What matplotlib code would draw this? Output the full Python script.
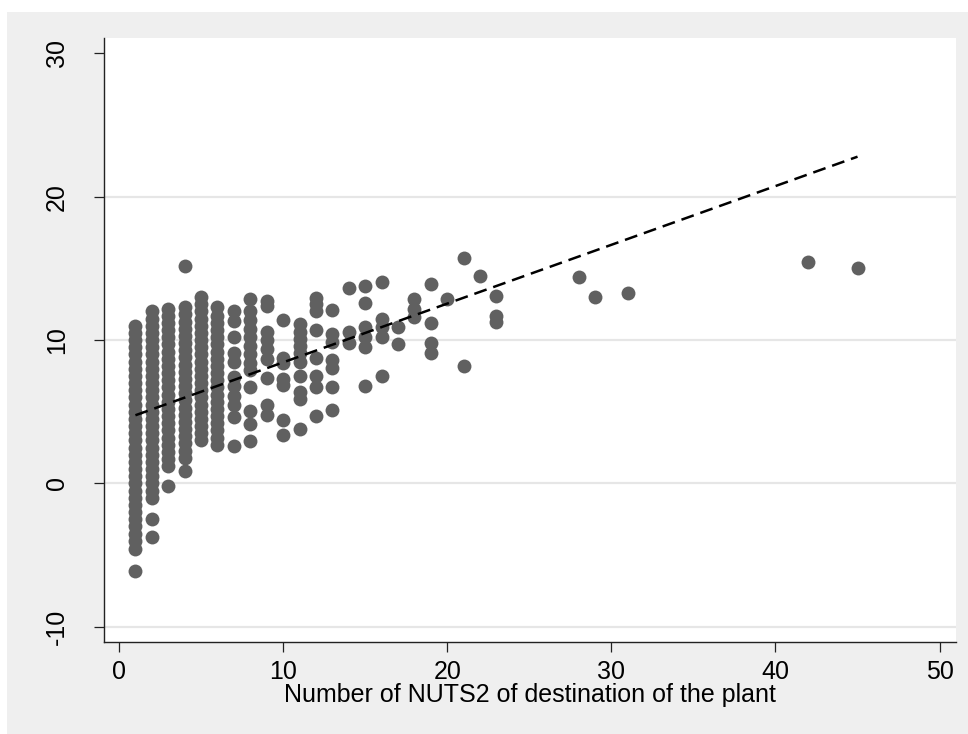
import matplotlib
matplotlib.use("Agg")
import matplotlib.pyplot as plt
from matplotlib.patches import Rectangle

plt.rcParams['font.family'] = ['Liberation Sans', 'DejaVu Sans']

# Data: number of NUTS2 regions (x) and outcome (y)
nuts_count = (
    [1] * 33 + [2] * 29 + [3] * 24 + [4] * 24 + [5] * 21 + [6] * 20 +
    [7] * 11 + [8] * 13 + [9] * 9 + [10] * 7 + [11] * 10 + [12] * 8 +
    [13] * 7 + [14] * 3 + [15] * 6 + [16] * 5 + [17] * 2 + [18] * 3 +
    [19] * 4 + [20] * 1 + [21] * 2 + [22] * 1 + [23] * 3 +
    [28, 29, 31, 42, 45]
)
outcome = [
    # x = 1
    -6.1, -4.6, -4.0, -3.5, -3.0, -2.5, -2.0, -1.5, -1.0, -0.5, 0.0, 0.5,
    1.0, 1.5, 2.0, 2.5, 3.0, 3.5, 4.0, 4.5, 5.0, 5.5, 6.0, 6.5, 7.0, 7.5,
    8.0, 8.5, 9.0, 9.5, 10.0, 10.5, 11.0,
    # x = 2
    -3.7, -2.5, -1.0, -0.5, 0.0, 0.5, 1.0, 1.5, 2.0, 2.5, 3.0, 3.5, 4.0,
    4.5, 5.0, 5.5, 6.0, 6.5, 7.0, 7.5, 8.0, 8.5, 9.0, 9.5, 10.0, 10.5,
    11.0, 11.5, 12.0,
    # x = 3
    -0.2, 1.2, 1.7, 2.2, 2.7, 3.2, 3.7, 4.2, 4.7, 5.2, 5.7, 6.2, 6.7, 7.2,
    7.7, 8.2, 8.7, 9.2, 9.7, 10.2, 10.7, 11.2, 11.7, 12.2,
    # x = 4
    0.9, 1.8, 2.3, 2.8, 3.3, 3.8, 4.3, 4.8, 5.3, 5.8, 6.3, 6.8, 7.3, 7.8,
    8.3, 8.8, 9.3, 9.8, 10.3, 10.8, 11.3, 11.8, 12.3, 15.15,
    # x = 5
    3.0, 3.5, 4.0, 4.5, 5.0, 5.5, 6.0, 6.5, 7.0, 7.5, 8.0, 8.5, 9.0, 9.5,
    10.0, 10.5, 11.0, 11.5, 12.0, 12.5, 13.0,
    # x = 6
    2.7, 3.2, 3.7, 4.2, 4.7, 5.2, 5.7, 6.2, 6.7, 7.2, 7.7, 8.2, 8.7, 9.2,
    9.7, 10.2, 10.7, 11.2, 11.7, 12.3,
    # x = 7
    12.05, 11.35, 10.2, 9.1, 8.5, 7.4, 6.8, 6.1, 5.45, 4.65, 2.6,
    # x = 8
    12.9, 12.0, 11.4, 10.8, 10.2, 9.6, 9.0, 8.4, 7.95, 6.7, 5.05, 4.15, 2.95,
    # x = 9
    12.7, 12.35, 10.6, 10.0, 9.4, 8.7, 7.35, 5.5, 4.8,
    # x = 10
    11.4, 8.75, 8.4, 7.3, 6.9, 4.45, 3.4,
    # x = 11
    11.1, 10.6, 10.1, 9.6, 9.1, 8.5, 7.5, 6.4, 5.9, 3.8,
    # x = 12
    12.95, 12.5, 12.0, 10.7, 8.75, 7.5, 6.7, 4.7,
    # x = 13
    12.1, 10.4, 9.9, 8.6, 8.05, 6.75, 5.15,
    # x = 14
    13.65, 10.6, 9.8,
    # x = 15
    13.75, 12.6, 10.9, 10.2, 9.55, 6.8,
    # x = 16
    14.05, 11.5, 10.9, 10.25, 7.5,
    # x = 17
    10.9, 9.75,
    # x = 18
    12.85, 12.2, 11.6,
    # x = 19
    13.9, 11.2, 9.8, 9.1,
    # x = 20
    12.85,
    # x = 21
    15.7, 8.2,
    # x = 22
    14.5,
    # x = 23
    13.05, 11.65, 11.3,
    # x = 28, 29, 31, 42, 45
    14.43, 12.98, 13.29, 15.43, 15.0,
]
fit_x = [1, 45]
fit_intercept = 4.35
fit_slope = 0.41

x_ticks = [0, 10, 20, 30, 40, 50]
y_ticks = [-10, 0, 10, 20, 30]
grid_levels = [-10, 0, 10, 20]
x_label = "Number of NUTS2 of destination of the plant"

W, H = 968, 734
fig = plt.figure(figsize=(W / 100, H / 100), dpi=100, facecolor='white')
bg = Rectangle((7 / W, 0), (W - 7) / W, (H - 12) / H,
               transform=fig.transFigure, facecolor='#efefef',
               edgecolor='none', zorder=-10)
fig.add_artist(bg)

left, right, top, bottom = 104, 956, 38, 642
ax = fig.add_axes([left / W, (H - bottom) / H, (right - left) / W, (bottom - top) / H])
ax.set_zorder(1)
ax.set_facecolor('white')

ax.set_xlim(-0.915, 51.0)
ax.set_ylim(-11.06, 31.08)

for yv in grid_levels:
    ax.axhline(yv, color='#e6e6e6', lw=1.6, zorder=1)

ax.scatter(nuts_count, outcome, s=100, color='#606060', linewidths=0, zorder=2)

fy = [fit_intercept + fit_slope * v for v in fit_x]
ax.plot(fit_x, fy, color='black', lw=1.8, dashes=(5.2, 2.8), zorder=3)

for s in ['top', 'right']:
    ax.spines[s].set_visible(False)
for s in ['left', 'bottom']:
    ax.spines[s].set_color('#222222')
    ax.spines[s].set_linewidth(1.0)

ax.set_xticks(x_ticks)
ax.set_yticks(y_ticks)
ax.set_yticklabels([str(v) for v in y_ticks], rotation=90, va='center')
ax.tick_params(axis='both', direction='out', length=7.2, width=0.9,
               color='#222222', labelsize=18, labelcolor='black')
ax.tick_params(axis='x', pad=6)
ax.tick_params(axis='y', pad=18)
ax.set_xlabel(x_label, fontsize=18, labelpad=-1)

fig.savefig('out.png', dpi=100, facecolor=fig.get_facecolor())
